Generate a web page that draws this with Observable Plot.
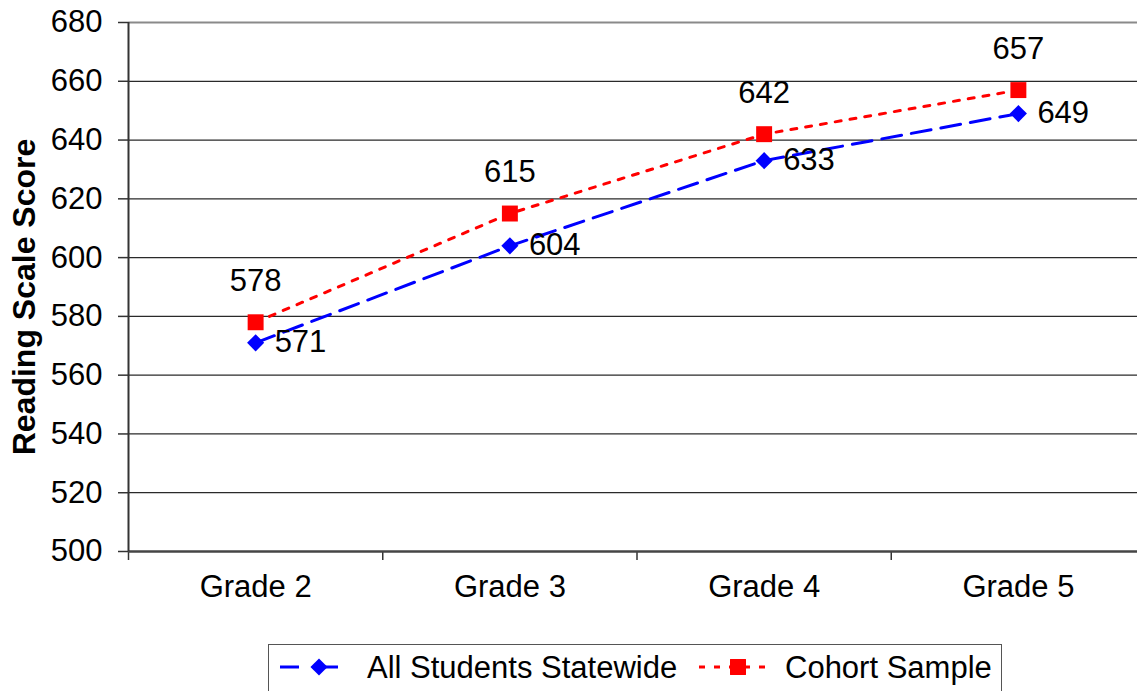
<!DOCTYPE html>
<html>
<head>
<meta charset="utf-8">
<script src="https://cdn.jsdelivr.net/npm/d3@7"></script>
<script src="https://cdn.jsdelivr.net/npm/@observablehq/plot@0.6"></script>
<style>
  html, body { margin: 0; padding: 0; background: #fff; overflow: hidden; }
  #wrap { position: relative; width: 1137px; height: 691px; font-family: "Liberation Sans", Arial, sans-serif; }
  #legend { position: absolute; left: 268px; top: 644px; width: 734px; height: 60px; box-sizing: border-box; border: 1.5px solid #555; background: #fff; }
</style>
</head>
<body>
<div id="wrap"><div id="chart"></div><div id="legend"></div></div>
<script>
const grades = ["Grade 2", "Grade 3", "Grade 4", "Grade 5"];
const allStudents = [571, 604, 633, 649];
const cohortSample = [578, 615, 642, 657];
const yTicks = [500, 520, 540, 560, 580, 600, 620, 640, 660, 680];
const seriesNames = ["All Students Statewide", "Cohort Sample"];
const yTitle = "Reading Scale Score";

const rows = grades.map((g, i) => ({pos: i + 0.5, grade: g, all: allStudents[i], cohort: cohortSample[i]}));
const boundaries = d3.range(grades.length + 1);
const font = "Liberation Sans, Arial, sans-serif";

const chart = Plot.plot({
  width: 1137,
  height: 640,
  marginLeft: 128,
  marginRight: 0,
  marginTop: 22,
  marginBottom: 89,
  style: {fontFamily: font, color: "#000", background: "#fff"},
  x: {domain: [0, grades.length], range: [128, 1145], axis: null},
  y: {domain: [500, 680], axis: null},
  marks: [
    Plot.ruleY(yTicks.filter(t => t > 500 && t < 680), {stroke: "#2a2a2a", strokeWidth: 1.3}),
    Plot.ruleY([680], {stroke: "#8a8a8a", strokeWidth: 2}),
    Plot.axisY({ticks: yTicks, tickSize: 10, tickPadding: 16, fontSize: 31, label: null, stroke: "#333", strokeWidth: 1.5, tickFormat: d => String(d)}),
    Plot.axisX({ticks: boundaries, tickSize: 9, tickFormat: () => "", label: null, stroke: "#333", strokeWidth: 1.5}),
    Plot.ruleY([500], {stroke: "#454545", strokeWidth: 2.5}),
    Plot.ruleX([0], {stroke: "#333", strokeWidth: 2}),
    Plot.text(rows, {x: "pos", text: "grade", frameAnchor: "bottom", dy: 45, fontSize: 31, fill: "#000"}),
    Plot.text([yTitle], {text: d => d, frameAnchor: "left", textAnchor: "middle", rotate: -90, dx: -104, dy: 10, fontSize: 32, fontWeight: "bold", fill: "#000"}),
    Plot.line(rows, {x: "pos", y: "all", stroke: "#0000ff", strokeWidth: 3, strokeDasharray: "20,10"}),
    Plot.line(rows, {x: "pos", y: "cohort", stroke: "#ff0000", strokeWidth: 3, strokeDasharray: "6,9"}),
    Plot.dot(rows, {x: "pos", y: "all", symbol: "diamond2", r: 7.7, fill: "#0000ff", stroke: "none"}),
    Plot.dot(rows, {x: "pos", y: "cohort", symbol: "square", r: 9, fill: "#ff0000", stroke: "none"}),
    Plot.text(rows, {x: "pos", y: "cohort", text: d => String(d.cohort), dy: -41, fontSize: 31, fill: "#000"}),
    Plot.text(rows, {x: "pos", y: "all", text: d => String(d.all), dx: 19, dy: -1, textAnchor: "start", fontSize: 31, fill: "#000"})
  ]
});
document.getElementById("chart").appendChild(chart);

// Legend below the chart
const leg = d3.select("#legend").append("svg").attr("width", 731).attr("height", 50)
  .style("font-family", font).style("display", "block");
const cy = 22;
// All Students
leg.append("line").attr("x1", 11).attr("x2", 88).attr("y1", cy).attr("y2", cy)
  .attr("stroke", "#0000ff").attr("stroke-width", 3).attr("stroke-dasharray", "19,20");
leg.append("path").attr("d", d3.symbol(d3.symbolDiamond2, Math.PI * 7.7 * 7.7)()).attr("transform", `translate(50,${cy})`).attr("fill", "#0000ff");
leg.append("text").attr("x", 98).attr("y", cy + 11).attr("font-size", 31).attr("fill", "#000").text(seriesNames[0]);
// Cohort
leg.append("line").attr("x1", 430).attr("x2", 499).attr("y1", cy).attr("y2", cy)
  .attr("stroke", "#ff0000").attr("stroke-width", 3).attr("stroke-dasharray", "6,9");
leg.append("path").attr("d", d3.symbol(d3.symbolSquare, Math.PI * 9 * 9)()).attr("transform", `translate(469,${cy})`).attr("fill", "#ff0000");
leg.append("text").attr("x", 516).attr("y", cy + 11).attr("font-size", 31).attr("fill", "#000").text(seriesNames[1]);
</script>
</body>
</html>
